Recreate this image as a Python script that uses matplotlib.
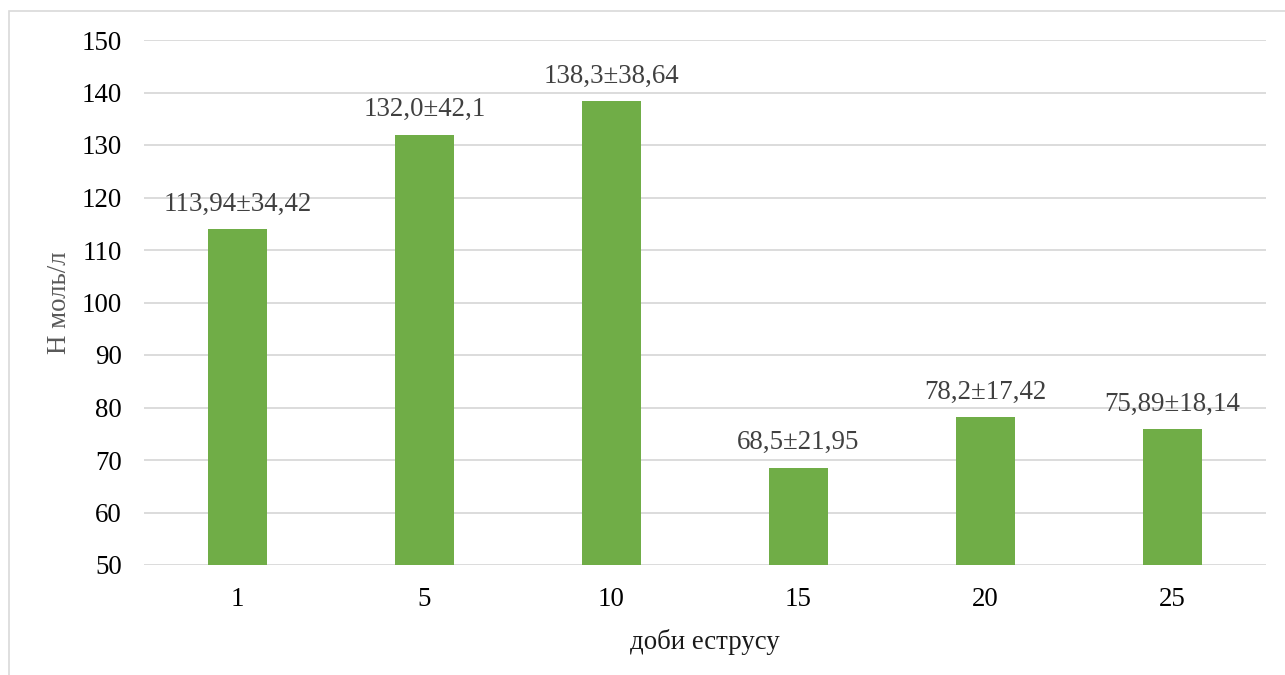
import matplotlib
matplotlib.use("Agg")
import matplotlib.pyplot as plt
from matplotlib.patches import Rectangle

categories = ["1", "5", "10", "15", "20", "25"]
values = [113.94, 132.0, 138.3, 68.5, 78.2, 75.89]
labels = ["113,94±34,42", "132,0±42,1", "138,3±38,64", "68,5±21,95", "78,2±17,42", "75,89±18,14"]
yticks = [50, 60, 70, 80, 90, 100, 110, 120, 130, 140, 150]

plt.rcParams['font.family'] = ['Liberation Serif', 'DejaVu Serif']
FS = 19.4

fig = plt.figure(figsize=(12.85, 6.75), dpi=100)
ax = fig.add_axes([144/1285, 1-565/675, (1266-144)/1285, (565-40)/675])

x = list(range(len(categories)))
ax.bar(x, [v - 50 for v in values], bottom=50, width=0.316, color="#70AD47", zorder=3)
ax.set_xlim(-0.5, len(categories) - 0.5)
ax.set_ylim(50, 150)
ax.set_yticks(yticks)
ax.set_xticks(x)
ax.set_xticklabels(categories)
ax.yaxis.grid(True, color="#D9D9D9", linewidth=1.3, zorder=0)
ax.set_axisbelow(True)
for s in ax.spines.values():
    s.set_visible(False)
ax.tick_params(axis='both', length=0, labelsize=FS, colors="#000000")
ax.tick_params(axis='y', pad=16)
ax.tick_params(axis='x', pad=16)

for xi, v, lab in zip(x, values, labels):
    ax.annotate(lab, (xi, v), xytext=(0, 9), textcoords="offset points",
                ha="center", va="bottom", fontsize=FS, color="#404040")

ax.set_xlabel("доби еструсу", fontsize=FS, color="#1a1a1a", labelpad=12)
ax.set_ylabel("Н моль/л", fontsize=FS, color="#595959", labelpad=7)

fig.patches.append(Rectangle((9/1285, -0.1), 1.1, 1 - 11/675 + 0.1,
                             transform=fig.transFigure, fill=False,
                             edgecolor="#D9D9D9", linewidth=1.2))

fig.savefig("out.png", dpi=100)
